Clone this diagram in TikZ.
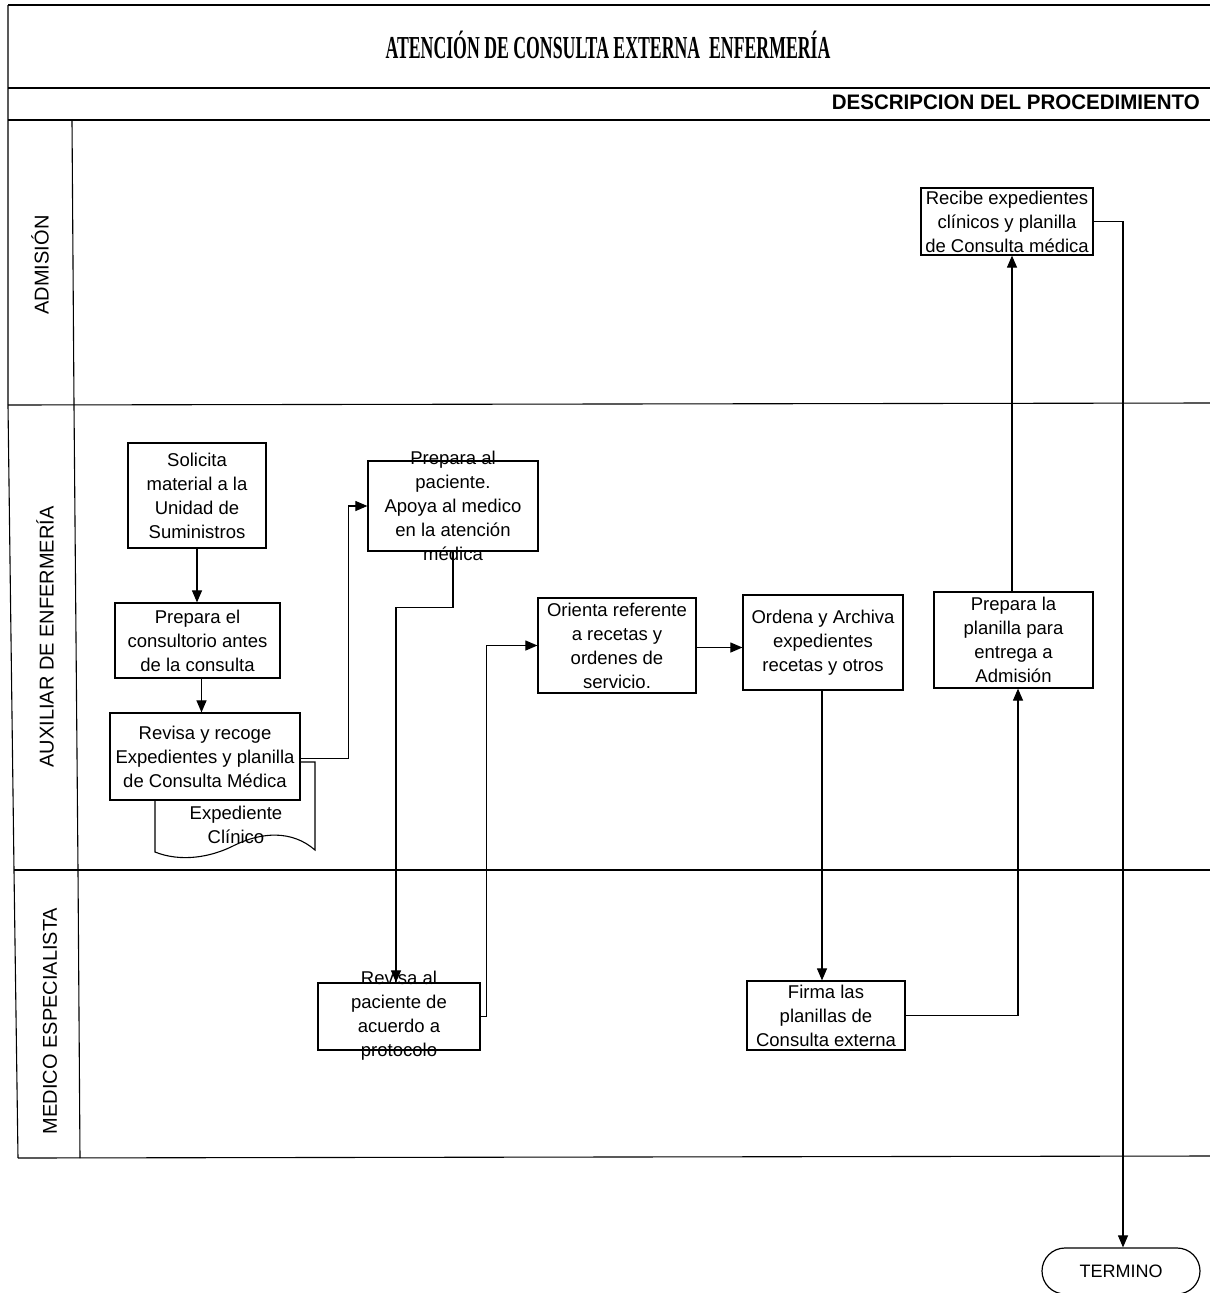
\documentclass[tikz,border=0pt]{standalone}
\usepackage{fontspec}
\setmainfont{Liberation Sans}
\newfontfamily\titlefont{Liberation Serif}
\usetikzlibrary{arrows.meta}

\begin{document}
\begin{tikzpicture}[x=1pt,y=-1pt,
  box/.style={draw, line width=1.2pt, fill=white, inner sep=2pt, align=center,
              font=\fontsize{18.5}{24}\selectfont},
  txt/.style={align=center, inner sep=0pt, font=\fontsize{18.5}{24}\selectfont},
  flow/.style={draw, line width=1.1pt, -{Triangle[length=12pt,width=10pt]}},
  frame/.style={line width=1.1pt},
  lane/.style={rotate=90, font=\fontsize{20}{24}\selectfont},
]
\useasboundingbox (0,0) rectangle (1210,1293);

% header frame
\draw[frame] (8,5) -- (1210,5);
\draw[frame] (8,88) -- (1210,88);
\draw[frame] (8,120) -- (1210,120);
\node (title) at (608,45) {\titlefont\bfseries\fontsize{32}{36}\selectfont
  \resizebox{445pt}{\height}{ATENCIÓN DE CONSULTA EXTERNA\ \ ENFERMERÍA}};
\node[anchor=east, inner sep=0pt] (desc) at (1200,102) {\bfseries\fontsize{21}{24}\selectfont
  \resizebox{368pt}{\height}{DESCRIPCION DEL PROCEDIMIENTO}};

% swimlanes
\draw[frame] (8,5) -- (8,405) -- (14,870) -- (18,1158);
\draw[frame] (72,120) -- (74,405) -- (78,870) -- (80,1158);
\draw[frame] (8,405) -- (1210,403);
\draw[frame] (14,870) -- (1210,870);
\draw[frame] (18,1158) -- (1210,1156);
\node[lane] (l1) at (40,265) {ADMISIÓN};
\node[lane] (l2) at (45,637) {AUXILIAR DE ENFERMERÍA};
\node[lane] (l3) at (50,1021) {MEDICO ESPECIALISTA};

% clinical record document behind the review box
\draw[line width=1.1pt, fill=white] (155,762) -- (315,762) -- (315,850)
  .. controls (292,830) and (262,832) .. (235,845)
  .. controls (210,858) and (180,862) .. (155,852) -- cycle;
\node[txt] (doc) at (236,825) {Expediente\\Clínico};

% process boxes
\node[box, minimum width=138pt, minimum height=105pt] (sol) at (197,495.5)
  {Solicita\\material a la\\Unidad de\\Suministros};
\node[box, minimum width=165pt, minimum height=75pt] (pre) at (197.5,640.5)
  {Prepara el\\consultorio antes\\de la consulta};
\node[box, minimum width=190pt, minimum height=87pt] (rev) at (205,756.5)
  {Revisa y recoge\\Expedientes y planilla\\de Consulta Médica};
\node[box, minimum width=170pt, minimum height=90pt] (pac) at (453,506) {};
\node[txt] (pactxt) at (pac.center)
  {Prepara al\\paciente.\\Apoya al medico\\en la atención\\médica};
\node[box, minimum width=158pt, minimum height=95pt] (ori) at (617,645.5)
  {Orienta referente\\a recetas y\\ordenes de\\servicio.};
\node[box, minimum width=160pt, minimum height=95pt] (ord) at (823,642.5)
  {Ordena y Archiva\\expedientes\\recetas y otros};
\node[box, minimum width=159pt, minimum height=96pt] (pla) at (1013.5,640)
  {Prepara la\\planilla para\\entrega a\\Admisión};
\node[box, minimum width=172pt, minimum height=67pt] (rec) at (1007,221.5)
  {Recibe expedientes\\clínicos y planilla\\de Consulta médica};
\node[box, minimum width=162pt, minimum height=67pt] (rpa) at (399,1016.5) {};
\node[txt] (rpatxt) at ([yshift=1pt]rpa.center)
  {Revisa al\\paciente de\\acuerdo a\\protocolo};
\node[box, minimum width=158pt, minimum height=69pt] (fir) at (826,1015.5)
  {Firma las\\planillas de\\Consulta externa};
\node[draw, line width=1.2pt, rounded corners=23pt, minimum width=158pt,
      minimum height=46pt, font=\fontsize{18}{20}\selectfont] (ter) at (1121,1271) {TERMINO};

% connectors
\draw[flow] (sol.south) -- (sol.south |- pre.north);
\draw[flow] ([xshift=4pt]pre.south) -- ([xshift=4pt]pre.south |- rev.north);
\draw[flow] ([yshift=-2pt]rev.east) -- ++(48,0) |- (pac.west);
\draw[flow] (pac.south) -- ++(0,56) -| ([xshift=-3pt]rpa.north);
\draw[flow] (rpa.east) -- ++(6,0) |- (ori.west);
\draw[flow] ([yshift=-2pt]ori.east) -- ([yshift=-2pt]ori.east -| ord.west);
\draw[flow] ([xshift=-1pt]ord.south) -- ([xshift=-1pt]ord.south |- fir.north);
\draw[flow] (fir.east) -| ([xshift=4.5pt]pla.south);
\draw[flow] ([xshift=-1.5pt]pla.north) -- ([xshift=-1.5pt]pla.north |- rec.south);
\draw[flow] (rec.east) -| ([xshift=2pt]ter.north);
\end{tikzpicture}
\end{document}
